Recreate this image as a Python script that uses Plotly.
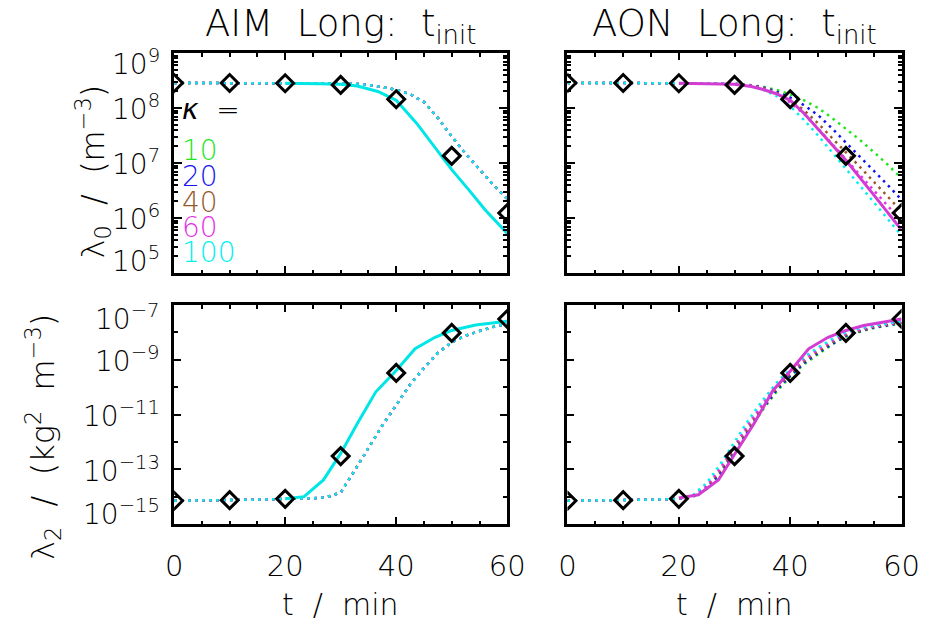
import numpy as np
import plotly.graph_objects as go

# ---------------- data (log10 values) ----------------
t_ref = [0, 10, 20, 30, 40, 50, 60]
lam0_ref_log = [8.455, 8.455, 8.45, 8.42, 8.16, 7.13, 6.09]
lam2_ref_log = [-14.15, -14.13, -14.08, -12.52, -9.48, -8.02, -7.51]

kappa_labels = ["10", "20", "40", "60", "100"]
kappa_colors = ["#1ee61e", "#1414f0", "#96582a", "#e632e6", "#00f0f0"]

# lambda_0, AIM
t_aim0_solid = [20, 23, 26, 30, 33, 36.7, 40, 43.7, 47, 50, 53, 56, 60]
aim0_solid = [8.45, 8.45, 8.44, 8.43, 8.40, 8.30, 8.14, 7.72, 7.28, 6.88, 6.52, 6.15, 5.72]
t_dot0 = [0, 5, 10, 15, 20, 25, 30, 32.5, 35, 37.5, 40, 42.5, 45, 47.5, 50, 52.5, 55, 57.5, 60]
aim0_dot = [8.455, 8.455, 8.455, 8.45, 8.45, 8.45, 8.445, 8.44, 8.42, 8.38, 8.33, 8.25, 8.11,
            7.82, 7.48, 7.17, 6.88, 6.60, 6.35]

# lambda_0, AON
t_aon0_solid = [20, 25, 30, 33, 35, 37.5, 40, 42.5, 45, 47.5, 50, 55, 60]
aon0_solid = [8.45, 8.445, 8.43, 8.39, 8.34, 8.26, 8.14, 7.90, 7.62, 7.33, 7.05, 6.42, 5.78]
aon0_dot = {
    "10":  [8.455, 8.455, 8.455, 8.45, 8.45, 8.45, 8.44, 8.42, 8.39, 8.33, 8.25, 8.14, 8.00,
            7.82, 7.62, 7.42, 7.20, 6.97, 6.72],
    "20":  [8.455, 8.455, 8.455, 8.45, 8.45, 8.45, 8.44, 8.42, 8.38, 8.30, 8.19, 8.05, 7.87,
            7.63, 7.37, 7.12, 6.86, 6.60, 6.33],
    "40":  [8.455, 8.455, 8.455, 8.45, 8.45, 8.45, 8.44, 8.42, 8.37, 8.28, 8.14, 7.96, 7.72,
            7.46, 7.20, 6.93, 6.66, 6.39, 6.12],
    "60":  [8.455, 8.455, 8.455, 8.45, 8.45, 8.45, 8.44, 8.42, 8.36, 8.26, 8.10, 7.89, 7.63,
            7.35, 7.06, 6.78, 6.50, 6.22, 5.94],
    "100": [8.455, 8.455, 8.455, 8.45, 8.45, 8.45, 8.44, 8.41, 8.34, 8.22, 8.03, 7.78, 7.50,
            7.20, 6.90, 6.60, 6.29, 5.99, 5.68],
}

# lambda_2, AIM
t_aim2_solid = [20, 23.4, 26.9, 30, 33, 36.3, 40, 43.4, 47, 50, 54.3, 60]
aim2_solid = [-14.08, -14.0, -13.39, -12.42, -11.33, -10.18, -9.39, -8.6, -8.18, -7.93, -7.73, -7.59]
t_dot2 = [0, 5, 10, 15, 20, 22.5, 25, 27.5, 30, 32.5, 35, 37.5, 40, 42.5, 45, 47.5, 50,
          52.5, 55, 57.5, 60]
aim2_dot = [-14.15, -14.14, -14.13, -14.11, -14.08, -14.07, -14.06, -14.02, -13.85, -13.05,
            -12.25, -11.40, -10.66, -9.90, -9.30, -8.75, -8.36, -8.12, -7.95, -7.80, -7.69]

# lambda_2, AON
t_aon2_solid = [20, 23.5, 27.1, 30.1, 33.5, 36.9, 40.1, 43.3, 46.8, 50, 53.2, 60]
aon2_solid = [-14.05, -13.93, -13.39, -12.42, -11.33, -10.12, -9.39, -8.6, -8.18, -7.93, -7.75, -7.51]
aon2_dot = {
    "10":  [-14.15, -14.14, -14.13, -14.11, -14.08, -14.01, -13.72, -13.18, -12.40, -11.60,
            -10.85, -10.18, -9.62, -9.16, -8.80, -8.45, -8.15, -7.98, -7.84, -7.75, -7.67],
    "20":  [-14.15, -14.14, -14.13, -14.11, -14.08, -14.00, -13.70, -13.12, -12.35, -11.55,
            -10.80, -10.12, -9.58, -9.12, -8.75, -8.42, -8.13, -7.96, -7.82, -7.74, -7.66],
    "40":  [-14.15, -14.14, -14.13, -14.11, -14.08, -13.98, -13.65, -13.05, -12.25, -11.45,
            -10.72, -10.05, -9.52, -9.05, -8.70, -8.37, -8.10, -7.94, -7.80, -7.72, -7.64],
    "60":  [-14.15, -14.14, -14.13, -14.11, -14.08, -13.97, -13.60, -12.95, -12.15, -11.35,
            -10.62, -9.97, -9.45, -8.98, -8.62, -8.30, -8.05, -7.90, -7.78, -7.70, -7.62],
    "100": [-14.15, -14.14, -14.13, -14.11, -14.08, -13.95, -13.50, -12.80, -12.00, -11.20,
            -10.50, -9.85, -9.35, -8.90, -8.55, -8.25, -8.00, -7.85, -7.75, -7.67, -7.60],
}

top_ticks = [9, 8, 7, 6, 5]
bot_ticks = [-7, -9, -11, -13, -15]

# ---------------- figure ----------------
FONT = "DejaVu Sans"
WT = 200
TXT = "black"
SP = "\u00a0\u00a0"
fig = go.Figure()
DOT = "2.5px,4.5px"


def p(v):
    return 10.0 ** np.array(v, dtype=float)


def fnt(size, color=TXT):
    return dict(family=FONT, size=size, color=color, weight=WT)


def add_panel(xa, ya, t_dot, dots, t_sol, sol, sol_color, ref):
    for lab, col in zip(kappa_labels, kappa_colors):
        fig.add_trace(go.Scatter(x=t_dot, y=p(dots[lab]), mode="lines", xaxis=xa, yaxis=ya,
                                 line=dict(color=col, width=2.5, dash=DOT), showlegend=False))
    fig.add_trace(go.Scatter(x=t_sol, y=p(sol), mode="lines", xaxis=xa, yaxis=ya,
                             line=dict(color=sol_color, width=3), showlegend=False))
    fig.add_trace(go.Scatter(x=t_ref, y=p(ref), mode="markers", xaxis=xa, yaxis=ya,
                             marker=dict(symbol="diamond-open", size=13, color="black",
                                         line=dict(width=3, color="black")),
                             showlegend=False))


aim0_dots = {k: aim0_dot for k in kappa_labels}
aim2_dots = {k: aim2_dot for k in kappa_labels}
add_panel("x", "y", t_dot0, aim0_dots, t_aim0_solid, aim0_solid, "#00e6e6", lam0_ref_log)
add_panel("x2", "y2", t_dot0, aon0_dot, t_aon0_solid, aon0_solid, "#d23cd2", lam0_ref_log)
add_panel("x3", "y3", t_dot2, aim2_dots, t_aim2_solid, aim2_solid, "#00e6e6", lam2_ref_log)
add_panel("x4", "y4", t_dot2, aon2_dot, t_aon2_solid, aon2_solid, "#d23cd2", lam2_ref_log)

W, H = 940, 627
LX = [170 / W, 513 / W]
RX = [575 / W, 919 / W]
TY = [1 - 273 / H, 1 - 53 / H]
BY = [1 - 524 / H, 1 - 305 / H]

axcommon = dict(showline=True, linecolor="black", linewidth=3, mirror="allticks",
                ticks="inside", tickcolor="black", tickwidth=2, showgrid=False,
                zeroline=False)


def xax(domain, anchor, labels):
    return dict(axcommon, domain=domain, anchor=anchor, range=[0, 60], tickvals=[0, 20, 40, 60],
                ticklen=7, showticklabels=labels, ticklabelstandoff=14,
                tickfont=fnt(29),
                minor=dict(dtick=5, ticklen=3.5, tickwidth=2, ticks="inside", tickcolor="black",
                           showgrid=False))


def yax_top(domain, anchor):
    return dict(axcommon, domain=domain, anchor=anchor, type="log", range=[5, 9], dtick=1,
                ticklen=8, showticklabels=False,
                minor=dict(dtick="D1", ticklen=4, tickwidth=2, ticks="inside", tickcolor="black",
                           showgrid=False))


def yax_bot(domain, anchor):
    return dict(axcommon, domain=domain, anchor=anchor, type="log", range=[-15, -7], tick0=-15,
                dtick=2, ticklen=7, showticklabels=False,
                minor=dict(dtick=1, ticklen=4, tickwidth=2, ticks="inside", tickcolor="black",
                           showgrid=False))


fig.update_layout(
    width=W, height=H, margin=dict(l=0, r=0, t=0, b=0),
    plot_bgcolor="white", paper_bgcolor="white",
    font=fnt(20),
    xaxis=xax(LX, "y", False), yaxis=yax_top(TY, "x"),
    xaxis2=xax(RX, "y2", False), yaxis2=yax_top(TY, "x2"),
    xaxis3=xax(LX, "y3", True), yaxis3=yax_bot(BY, "x3"),
    xaxis4=xax(RX, "y4", True), yaxis4=yax_bot(BY, "x4"),
)

ann = []
# y tick labels
for e in top_ticks:
    shift = -10 if e == 9 else (14 if e == 5 else 0)
    ann.append(dict(x=158 / W, xref="paper", y=e, yref="y", xanchor="right", yanchor="middle",
                    yshift=shift, showarrow=False, text="10<sup>%d</sup>" % e, font=fnt(28)))
for e in bot_ticks:
    shift = -12 if e == -7 else (12 if e == -15 else 0)
    ann.append(dict(x=158 / W, xref="paper", y=e, yref="y3", xanchor="right", yanchor="middle",
                    yshift=shift, showarrow=False, text="10<sup>\u2212%d</sup>" % (-e),
                    font=fnt(28)))

# titles
for xc, txt in [((LX[0] + LX[1]) / 2, "AIM" + SP + "Long:" + SP + "t<sub>init</sub>"),
                ((RX[0] + RX[1]) / 2, "AON" + SP + "Long:" + SP + "t<sub>init</sub>")]:
    ann.append(dict(x=xc, y=1 - 26 / H, xref="paper", yref="paper", xanchor="center",
                    yanchor="middle", showarrow=False, text=txt, font=fnt(37)))
    ann.append(dict(x=xc, y=1 - 604 / H, xref="paper", yref="paper", xanchor="center",
                    yanchor="middle", showarrow=False, text="t" + SP + "/" + SP + "min",
                    font=fnt(30)))

# y axis titles
ann.append(dict(x=86 / W, y=1 - 172 / H, xref="paper", yref="paper", textangle=-90,
                xanchor="center", yanchor="middle", showarrow=False,
                text="\u03bb<sub>0</sub>" + SP + "/" + SP + "(m<sup>\u22123</sup>)",
                font=fnt(32)))
ann.append(dict(x=35 / W, y=1 - 437 / H, xref="paper", yref="paper", textangle=-90,
                xanchor="center", yanchor="middle", showarrow=False,
                text="\u03bb<sub>2</sub>" + SP + "/" + SP + "(kg<sup>2</sup>" + SP +
                     "m<sup>\u22123</sup>)",
                font=fnt(32)))

# kappa legend
ann.append(dict(x=176 / W, y=1 - 109 / H, xref="paper", yref="paper", xanchor="left",
                yanchor="middle", showarrow=False, text="<i>\u03ba</i>" + SP + "=",
                font=fnt(28, "black")))
for i, (lab, col) in enumerate(zip(kappa_labels, kappa_colors)):
    ann.append(dict(x=176 / W, y=1 - (151 + 25.5 * i) / H, xref="paper", yref="paper",
                    xanchor="left", yanchor="middle", showarrow=False, text=lab,
                    font=fnt(28, col)))

fig.update_layout(annotations=ann)
fig.write_html("out.html")
